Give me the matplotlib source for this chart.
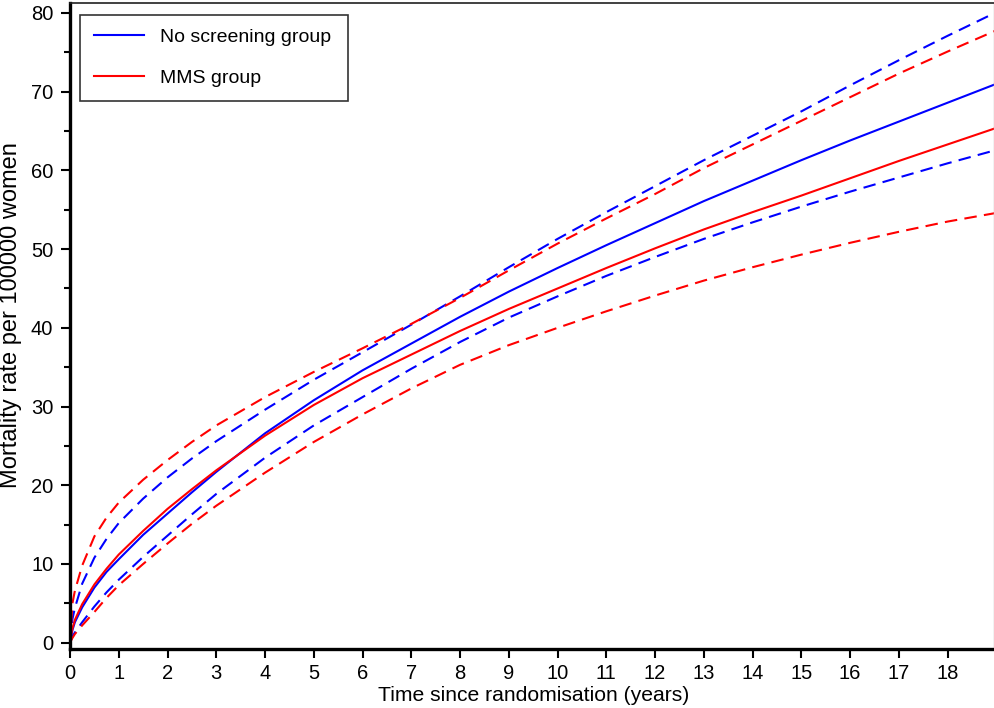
import matplotlib
matplotlib.use("Agg")
import matplotlib.pyplot as plt
from matplotlib.ticker import MultipleLocator

plt.rcParams['font.family'] = ['Liberation Sans', 'DejaVu Sans']

# time points (years)
t = [0, 0.05, 0.1, 0.25, 0.5, 0.75, 1, 1.5, 2, 2.5, 3, 4, 5, 6, 7, 8, 9, 10, 11, 12, 13, 14, 15, 16, 17, 18, 19]

no_screen = [0, 1.6, 2.6, 4.5, 7.0, 9.0, 10.6, 13.7, 16.4, 19.1, 21.7, 26.6, 30.8, 34.6, 38.0, 41.4, 44.6, 47.6, 50.5, 53.3, 56.1, 58.7, 61.3, 63.8, 66.2, 68.6, 71.0]
no_screen_hi = [0, 3.0, 4.4, 7.5, 10.8, 13.2, 15.2, 18.3, 21.0, 23.4, 25.6, 29.6, 33.4, 36.9, 40.4, 44.0, 47.7, 51.3, 54.7, 58.0, 61.3, 64.4, 67.5, 70.8, 74.0, 77.1, 80.1]
no_screen_lo = [0, 0.8, 1.3, 2.6, 4.6, 6.4, 8.0, 10.9, 13.6, 16.3, 18.9, 23.5, 27.6, 31.2, 34.8, 38.2, 41.3, 44.0, 46.6, 49.0, 51.3, 53.4, 55.4, 57.3, 59.1, 60.9, 62.6]

mms = [0, 1.8, 2.9, 4.9, 7.4, 9.4, 11.2, 14.2, 17.0, 19.5, 21.9, 26.3, 30.2, 33.6, 36.6, 39.6, 42.4, 45.0, 47.6, 50.1, 52.5, 54.7, 56.8, 59.0, 61.2, 63.3, 65.4]
mms_hi = [0, 5.0, 6.6, 9.8, 13.5, 15.9, 17.8, 20.7, 23.2, 25.5, 27.6, 31.2, 34.4, 37.4, 40.5, 43.8, 47.3, 50.7, 53.9, 57.0, 60.3, 63.3, 66.3, 69.3, 72.3, 75.1, 77.8]
mms_lo = [0, 0.6, 1.1, 2.2, 3.9, 5.7, 7.3, 10.0, 12.6, 15.1, 17.4, 21.6, 25.5, 29.0, 32.3, 35.3, 37.8, 40.0, 42.1, 44.1, 46.0, 47.7, 49.3, 50.8, 52.2, 53.5, 54.6]

x_ticks = list(range(0, 19))
y_ticks = list(range(0, 81, 10))

BLUE = '#0000ff'
RED = '#ff0000'

fig = plt.figure(figsize=(9.95, 7.08), dpi=100)
ax_h = 645.5
ax = fig.add_axes([70/995, 1 - 649/708, 924/995, ax_h/708])

lw = 1.5
dash = (6, 3.5)
ax.plot(t, no_screen, color=BLUE, lw=lw, label='No screening group')
ax.plot(t, mms, color=RED, lw=lw, label='MMS group')
ax.plot(t, no_screen_hi, color=BLUE, lw=lw, dashes=dash)
ax.plot(t, no_screen_lo, color=BLUE, lw=lw, dashes=dash)
ax.plot(t, mms_hi, color=RED, lw=lw, dashes=dash)
ax.plot(t, mms_lo, color=RED, lw=lw, dashes=dash)

ax.set_xlim(0, 18.95)
ax.set_ylim(-0.8, 81.2)
ax.set_xticks(x_ticks)
ax.set_yticks(y_ticks)
ax.yaxis.set_minor_locator(MultipleLocator(5))

ax.tick_params(axis='both', which='major', direction='out', length=6.5, width=1.5,
               labelsize=14.5, colors='black')
ax.tick_params(axis='y', which='minor', direction='out', length=4, width=1.5)
ax.tick_params(axis='x', pad=4.5)
ax.tick_params(axis='y', pad=5.5)

for side in ['left', 'bottom']:
    ax.spines[side].set_linewidth(2.4)
    ax.spines[side].set_color('black')
ax.spines['top'].set_linewidth(1.2)
ax.spines['top'].set_color('#202020')
ax.spines['right'].set_linewidth(1.0)
ax.spines['right'].set_color('#c0c0c0')

fig.text(534/995, 1 - 695.5/708, 'Time since randomisation (years)', fontsize=15.2,
         ha='center', va='center')
fig.text(11/995, 1 - 315/708, 'Mortality rate per 100000 women', fontsize=17,
         ha='center', va='center', rotation=90)

leg_top = 1 - 11.5/ax_h
leg_h = 0.01
leg = ax.legend(loc='upper left', bbox_to_anchor=(10/924, leg_top - leg_h, 268/924, leg_h),
                mode='expand', borderaxespad=0,
                fontsize=14, frameon=True, fancybox=False, edgecolor='black',
                handlelength=2.6, handletextpad=0.8, labelspacing=1.2, borderpad=0.7)
leg.get_frame().set_linewidth(1.2)

fig.savefig('out.png', dpi=100)
